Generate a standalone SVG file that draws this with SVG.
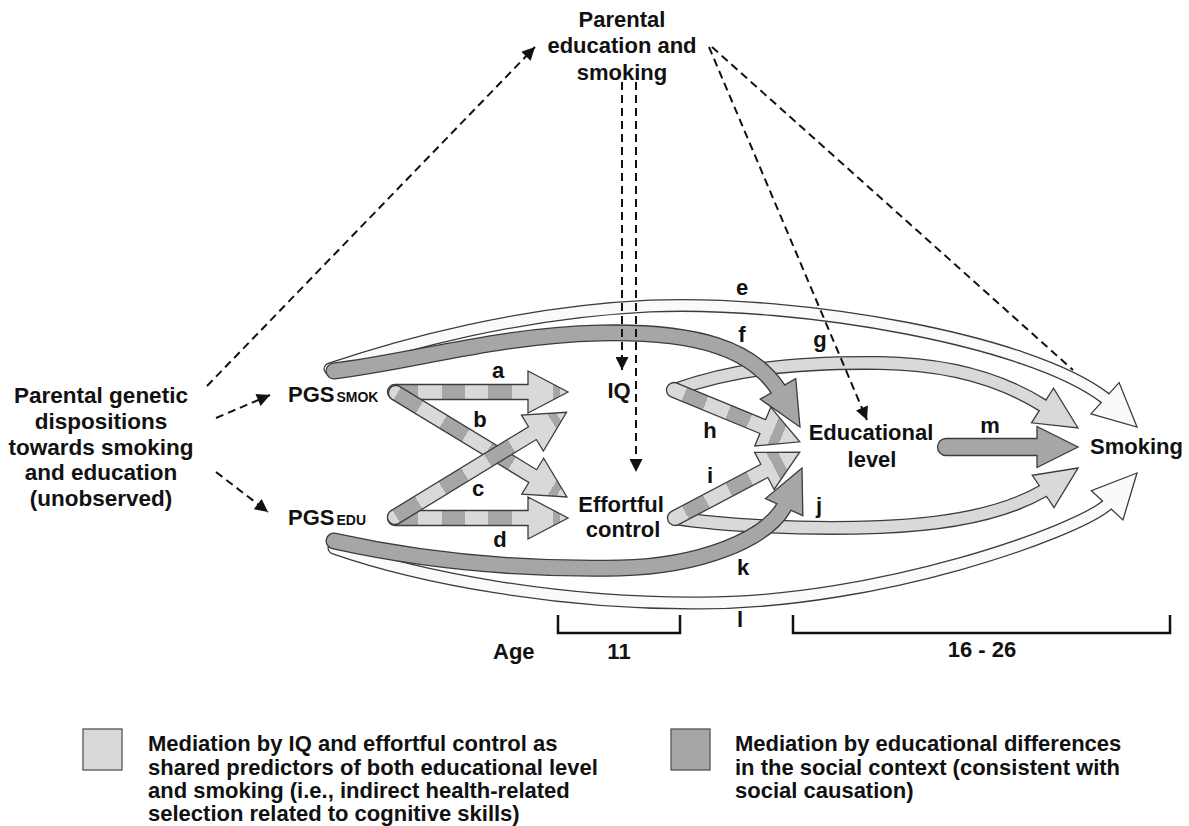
<svg xmlns="http://www.w3.org/2000/svg" width="1189" height="826" viewBox="0 0 1189 826">
<style>
text{font-family:"Liberation Sans",Arial,sans-serif;font-weight:bold;fill:#111;font-size:22px}
.big{font-size:22.5px}
.sub{font-size:14px}
.mid{text-anchor:middle}
.ol{fill:none;stroke:#3c3c3c;stroke-linecap:round}
.fl{fill:none;stroke-linecap:round}
.hd{stroke:#3c3c3c;stroke-width:1.3;stroke-linejoin:miter}
.st{stroke:#3c3c3c;stroke-width:1.3;stroke-linejoin:miter}
.dash{fill:none;stroke:#111;stroke-width:2;stroke-dasharray:8 5}
.lt{fill:#d9d9d9}.dk{fill:#a6a6a6}.wh{fill:#fafafa}
.brk{fill:none;stroke:#111;stroke-width:2.5}
</style>
<defs>
<linearGradient id="stripeA" x1="0" y1="0" x2="1" y2="0">
<stop offset="0" stop-color="#d9d9d9"/><stop offset=".042" stop-color="#d9d9d9"/>
<stop offset=".042" stop-color="#a6a6a6"/><stop offset=".169" stop-color="#a6a6a6"/>
<stop offset=".169" stop-color="#d9d9d9"/><stop offset=".302" stop-color="#d9d9d9"/>
<stop offset=".302" stop-color="#a6a6a6"/><stop offset=".429" stop-color="#a6a6a6"/>
<stop offset=".429" stop-color="#d9d9d9"/><stop offset=".557" stop-color="#d9d9d9"/>
<stop offset=".557" stop-color="#a6a6a6"/><stop offset=".69" stop-color="#a6a6a6"/>
<stop offset=".69" stop-color="#d9d9d9"/><stop offset=".917" stop-color="#d9d9d9"/>
<stop offset=".917" stop-color="#a6a6a6"/><stop offset=".956" stop-color="#a6a6a6"/>
<stop offset=".956" stop-color="#d9d9d9"/><stop offset="1" stop-color="#d9d9d9"/>
</linearGradient>
<linearGradient id="stripeB" x1="0" y1="0" x2="1" y2="0">
<stop offset="0" stop-color="#d9d9d9"/><stop offset=".13" stop-color="#d9d9d9"/>
<stop offset=".13" stop-color="#a6a6a6"/><stop offset=".29" stop-color="#a6a6a6"/>
<stop offset=".29" stop-color="#d9d9d9"/><stop offset=".46" stop-color="#d9d9d9"/>
<stop offset=".46" stop-color="#a6a6a6"/><stop offset=".62" stop-color="#a6a6a6"/>
<stop offset=".62" stop-color="#d9d9d9"/><stop offset=".8" stop-color="#d9d9d9"/>
<stop offset=".8" stop-color="#a6a6a6"/><stop offset=".87" stop-color="#a6a6a6"/>
<stop offset=".87" stop-color="#d9d9d9"/><stop offset="1" stop-color="#d9d9d9"/>
</linearGradient>
<marker id="ah" viewBox="0 0 10 10" refX="10" refY="5" markerWidth="14" markerHeight="13" markerUnits="userSpaceOnUse" orient="auto">
<path d="M0,0 L10,5 L0,10 Z" fill="#111"/>
</marker>
</defs>

<g id="connectors">
<!-- l: white, PGS EDU -> Smoking -->
<g id="arrow-l">
<path class="ol" stroke-width="13" d="M334,548 C420,578 560,604 700,603 C880,603 1075,532 1107,505"/>
<path class="hd wh" transform="translate(1137,473) rotate(-47.3)" d="M0,0 L-44,-21.5 L-44,21.5 Z"/>
<path class="fl" stroke="#fafafa" stroke-width="10.4" d="M334,548 C420,578 560,604 700,603 C880,603 1075,532 1107,505"/>
</g>
<!-- e: white, PGS SMOK -> Smoking -->
<g id="arrow-e">
<path class="ol" stroke-width="13" d="M330,369 C400,345 520,312 650,306 C800,300 1030,340 1105,398"/>
<path class="hd wh" transform="translate(1137,427) rotate(42)" d="M0,0 L-43,-21 L-43,21 Z"/>
<path class="fl" stroke="#fafafa" stroke-width="10.4" d="M330,369 C400,345 520,312 650,306 C800,300 1030,340 1105,398"/>
</g>
<!-- g: light, IQ -> Smoking -->
<g id="arrow-g">
<path class="ol" stroke-width="14" d="M674,390 C730,370 790,362 880,363 C960,364 1010,385 1042,405"/>
<path class="hd lt" transform="translate(1078,428) rotate(32.4)" d="M0,0 L-42,-20.5 L-42,20.5 Z"/>
<path class="fl" stroke="#d9d9d9" stroke-width="11.4" d="M674,390 C730,370 790,362 880,363 C960,364 1010,385 1042,405"/>
</g>
<!-- j: light, Effortful control -> Smoking -->
<g id="arrow-j">
<path class="ol" stroke-width="14" d="M675,518 C720,525 800,530 880,527 C960,524 1010,510 1043,491"/>
<path class="hd lt" transform="translate(1078,468) rotate(-33.9)" d="M0,0 L-42,-19.5 L-42,19.5 Z"/>
<path class="fl" stroke="#d9d9d9" stroke-width="11.4" d="M675,518 C720,525 800,530 880,527 C960,524 1010,510 1043,491"/>
</g>
<!-- f: dark, PGS SMOK -> Educational level -->
<g id="arrow-f">
<path class="ol" stroke-width="17" d="M334,371 C410,362 500,335 600,333 C700,331 752,350 778,389"/>
<path class="hd dk" transform="translate(800,427) rotate(60)" d="M0,0 L-44,-20.5 L-44,20.5 Z"/>
<path class="fl" stroke="#a6a6a6" stroke-width="14.4" d="M334,371 C410,362 500,335 600,333 C700,331 752,350 778,389"/>
</g>
<!-- k: dark, PGS EDU -> Educational level -->
<g id="arrow-k">
<path class="ol" stroke-width="17" d="M334,541 C420,560 520,570 620,568 C700,566 765,540 784,507"/>
<path class="hd dk" transform="translate(802,468) rotate(-65.5)" d="M0,0 L-43,-20.5 L-43,20.5 Z"/>
<path class="fl" stroke="#a6a6a6" stroke-width="14.4" d="M334,541 C420,560 520,570 620,568 C700,566 765,540 784,507"/>
</g>
<!-- striped a-d -->
<path id="arrow-a" class="st" fill="url(#stripeA)" transform="translate(395,392)" d="M0,-7.5 L133,-7.5 L133,-21 L173,0 L133,21 L133,7.5 L0,7.5 A7.5,7.5 0 0 1 0,-7.5 Z"/>
<path id="arrow-d" class="st" fill="url(#stripeA)" transform="translate(395,518)" d="M0,-7.5 L133,-7.5 L133,-21 L173,0 L133,21 L133,7.5 L0,7.5 A7.5,7.5 0 0 1 0,-7.5 Z"/>
<path id="arrow-b" class="st" fill="url(#stripeA)" transform="translate(396,393) rotate(31.3)" d="M0,-7.5 L160,-7.5 L160,-21 L200,0 L160,21 L160,7.5 L0,7.5 A7.5,7.5 0 0 1 0,-7.5 Z"/>
<path id="arrow-c" class="st" fill="url(#stripeA)" transform="translate(395,517) rotate(-31.4)" d="M0,-7.5 L161,-7.5 L161,-21 L201,0 L161,21 L161,7.5 L0,7.5 A7.5,7.5 0 0 1 0,-7.5 Z"/>
<!-- striped h, i -->
<path id="arrow-h" class="st" fill="url(#stripeB)" transform="translate(674,390) rotate(22.4)" d="M0,-7.5 L96,-7.5 L96,-21 L136,0 L96,21 L96,7.5 L0,7.5 A7.5,7.5 0 0 1 0,-7.5 Z"/>
<path id="arrow-i" class="st" fill="url(#stripeB)" transform="translate(675,518) rotate(-27.8)" d="M0,-7.5 L101,-7.5 L101,-21 L141,0 L101,21 L101,7.5 L0,7.5 A7.5,7.5 0 0 1 0,-7.5 Z"/>
<!-- m -->
<path id="arrow-m" class="st dk" transform="translate(946,447)" d="M0,-8.5 L91,-8.5 L91,-20.5 L132,0 L91,20.5 L91,8.5 L0,8.5 A8.5,8.5 0 0 1 0,-8.5 Z"/>

<!-- dashed paths -->
<line class="dash" x1="207" y1="386" x2="535" y2="47" marker-end="url(#ah)"/>
<line class="dash" x1="216" y1="418" x2="270" y2="395" marker-end="url(#ah)"/>
<line class="dash" x1="216" y1="472" x2="268" y2="512" marker-end="url(#ah)"/>
<line class="dash" x1="622" y1="82" x2="622" y2="370" marker-end="url(#ah)"/>
<line class="dash" x1="636" y1="82" x2="636" y2="472" marker-end="url(#ah)"/>
<line class="dash" x1="709" y1="47" x2="867" y2="420" marker-end="url(#ah)"/>
<line class="dash" x1="712" y1="47" x2="1073" y2="370"/>

<g id="path-labels">
<text class="mid" x="498" y="378">a</text>
<text class="mid" x="480" y="427">b</text>
<text class="mid" x="478" y="496">c</text>
<text class="mid" x="500" y="547">d</text>
<text class="mid" x="742" y="295">e</text>
<text class="mid" x="742" y="342">f</text>
<text class="mid" x="820" y="347">g</text>
<text class="mid" x="710" y="438">h</text>
<text class="mid" x="710" y="483">i</text>
<text class="mid" x="819" y="513">j</text>
<text class="mid" x="743" y="575">k</text>
<text class="mid" x="740" y="627">l</text>
<text class="mid" x="990" y="433">m</text>
</g>
</g>

<g id="node-parental-genetic">
<text class="big mid" x="101" y="403">Parental genetic</text>
<text class="big mid" x="101" y="429">dispositions</text>
<text class="big mid" x="101" y="455">towards smoking</text>
<text class="big mid" x="101" y="480">and education</text>
<text class="big mid" x="101" y="506">(unobserved)</text>
</g>
<g id="node-parental-edu-smoking">
<text class="mid" x="622" y="27">Parental</text>
<text class="mid" x="622" y="53">education and</text>
<text class="mid" x="622" y="80">smoking</text>
</g>
<g id="node-pgs-smok"><text x="288" y="402">PGS<tspan class="sub" dx="2">SMOK</tspan></text></g>
<g id="node-pgs-edu"><text x="288" y="525">PGS<tspan class="sub" dx="2">EDU</tspan></text></g>
<g id="node-iq"><text class="mid" x="619" y="398">IQ</text></g>
<g id="node-effortful-control">
<text class="mid" x="621" y="512">Effortful</text>
<text class="mid" x="623" y="537">control</text>
</g>
<g id="node-educational-level">
<text class="mid" x="871" y="440">Educational</text>
<text class="mid" x="872" y="467">level</text>
</g>
<g id="node-smoking"><text x="1090" y="454">Smoking</text></g>

<g id="age-axis">
<polyline class="brk" points="558,615 558,633 680,633 680,615"/>
<polyline class="brk" points="793,615 793,633 1170,633 1170,615"/>
<text x="493" y="659">Age</text>
<text class="mid" x="619" y="659">11</text>
<text class="mid" x="982" y="657">16 - 26</text>
</g>

<g id="legend">
<rect x="83" y="729" width="39" height="41" fill="#d9d9d9" stroke="#555" stroke-width="1.3"/>
<text x="148" y="751">Mediation by IQ and effortful control as</text>
<text x="148" y="775">shared predictors of both educational level</text>
<text x="148" y="798">and smoking (i.e., indirect health-related</text>
<text x="148" y="821">selection related to cognitive skills)</text>
<rect x="671" y="729" width="39" height="41" fill="#a6a6a6" stroke="#555" stroke-width="1.3"/>
<text x="735" y="751">Mediation by educational differences</text>
<text x="735" y="775">in the social context (consistent with</text>
<text x="735" y="798">social causation)</text>
</g>
</svg>
